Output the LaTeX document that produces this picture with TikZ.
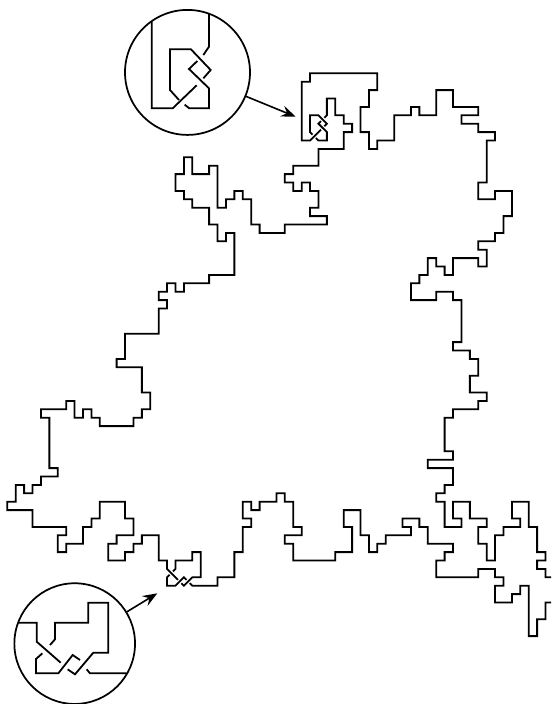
\documentclass[tikz,border=0pt]{standalone}
\usetikzlibrary{arrows.meta}
\tikzset{
  curve/.style={line width=1.35pt,black,line join=miter},
  lens/.style={circle,draw=black,line width=1.3pt,minimum size=#1,inner sep=0pt,outer sep=0pt},
  pointer/.style={line width=1.2pt,black,-{Stealth[length=11pt,width=8.5pt,inset=4pt]},shorten >=0pt},
  grid/.style={shift={(7.3,73.3)},x=6.3075pt,y=-6.3pt},
  zoomone/.style={shift={(110,0)},x=.25pt,y=-.25pt},
  zoomtwo/.style={shift={(0,580)},x=.25pt,y=-.25pt}
}
\begin{document}
\begin{tikzpicture}[x=.75pt,y=-.75pt]
\clip (0,0) rectangle (551,704);
\useasboundingbox (0,0) rectangle (551,704);
\begin{scope}[grid]
\draw[curve] (37.3,5.7)--(37,6)--(38,7)--(38,8)--(37,8)--(36.7,7.7);
\draw[curve] (36.3,7.3)--(36,7)--(36,5)--(37,5)--(38,6)--(37.7,6.3);
\draw[curve] (37.3,6.7)--(37,7)--(36,8)--(35,8)--(35,1)--(36,1)--(36,0)--(44,0)--(44,2)--(43,2)--(43,4)--(42,4)--(42,7)--(43,7)--(43,9)--(44,9)--(44,8)--(46,8)--(46,5)--(48,5)--(48,4)--(49,4)--(49,5)--(51,5)--(51,2)--(53,2)--(53,4)--(56,4)--(56,5)--(54,5)--(54,6)--(56,6)--(56,7)--(58,7)--(58,8)--(57,8)--(57,13)--(56,13)--(56,15)--(58,15)--(58,14)--(60,14)--(60,17)--(59,17)--(59,19)--(58,19)--(58,20)--(56,20)--(56,21)--(57,21)--(57,23)--(56,23)--(56,22)--(53,22)--(53,24)--(52,24)--(52,23)--(51,23)--(51,22)--(50,22)--(50,24)--(49,24)--(49,25)--(48,25)--(48,27)--(51,27)--(51,26)--(53,26)--(53,27)--(54,27)--(54,32)--(53,32)--(53,33)--(55,33)--(55,34)--(56,34)--(56,36)--(55,36)--(55,38)--(57,38)--(57,39)--(56,39)--(56,40)--(53,40)--(53,41)--(52,41)--(52,45)--(53,45)--(53,46)--(50,46)--(50,47)--(53,47)--(53,49)--(52,49)--(52,50)--(51,50)--(51,51)--(52,51)--(52,54)--(54,54)--(54,53)--(53,53)--(53,51)--(55,51)--(55,53)--(57,53)--(57,54)--(56,54)--(56,56)--(57,56)--(57,58)--(58,58)--(58,55)--(59,55)--(59,54)--(61,54)--(61,53)--(60,53)--(60,51)--(62,51)--(62,54)--(63,54)--(63,57)--(64,57)--(64,58)--(63,58)--(63,59)--(64,59)--(64,60)--(65,60)--(65,63)--(64,63)--(64,65)--(63,65)--(63,67)--(62,67)--(62,61)--(61,61)--(61,62)--(60,62)--(60,63)--(58,63)--(58,61)--(59,61)--(59,60)--(58,60)--(58,59)--(56,59)--(56,60)--(51,60)--(51,58)--(52,58)--(52,57)--(53,57)--(53,56)--(50,56)--(50,54)--(49,54)--(49,53)--(47,53)--(47,54)--(48,54)--(48,55)--(45,55)--(45,56)--(44,56)--(44,57)--(43,57)--(43,55)--(42,55)--(42,52)--(40,52)--(40,54)--(41,54)--(41,57)--(39,57)--(39,58)--(34,58)--(34,56)--(33,56)--(33,55)--(35,55)--(35,54)--(34,54)--(34,51)--(33,51)--(33,50)--(32,50)--(32,51)--(30,51)--(30,52)--(29,52)--(29,51)--(28,51)--(28,53)--(29,53)--(29,54)--(28,54)--(28,57)--(27,57)--(27,60)--(25,60)--(25,61)--(22,61)--(21.7,60.7);
\draw[curve] (21.3,60.3)--(21,60)--(20,61)--(19,61)--(19,60)--(19.3,59.7);
\draw[curve] (19.7,59.3)--(20,59)--(20,58)--(22,58)--(22,57)--(23,57)--(23,60)--(22,60)--(21,61)--(20.7,60.7);
\draw[curve] (20.3,60.3)--(19,59)--(19,58)--(18,58)--(18,55)--(16,55)--(16,56)--(15,56)--(15,57)--(14,57)--(14,58)--(12,58)--(12,56)--(13,56)--(13,55)--(15,55)--(15,53)--(14,53)--(14,51)--(11,51)--(11,53)--(10,53)--(10,54)--(9,54)--(9,56)--(7,56)--(7,57)--(6,57)--(6,55)--(7,55)--(7,54)--(3,54)--(3,52)--(0,52)--(0,51)--(1,51)--(1,49)--(2,49)--(2,50)--(3,50)--(3,49)--(4,49)--(4,48)--(6,48)--(6,47)--(5,47)--(5,41)--(4,41)--(4,40)--(7,40)--(7,39)--(8,39)--(8,41)--(9,41)--(9,40)--(10,40)--(10,41)--(11,41)--(11,42)--(15,42)--(15,41)--(16,41)--(16,40)--(17,40)--(17,38)--(16,38)--(16,35)--(13,35)--(13,34)--(14,34)--(14,31)--(18,31)--(18,28)--(19,28)--(19,27)--(18,27)--(18,26)--(19,26)--(19,25)--(20,25)--(20,26)--(21,26)--(21,25)--(24,25)--(24,24)--(27,24)--(27,19)--(26,19)--(26,20)--(25,20)--(25,18)--(24,18)--(24,16)--(22,16)--(22,15)--(21,15)--(21,14)--(20,14)--(20,12)--(21,12)--(21,10)--(22,10)--(22,12)--(24,12)--(24,11)--(25,11)--(25,16)--(26,16)--(26,15)--(27,15)--(27,14)--(28,14)--(28,15)--(29,15)--(29,18)--(30,18)--(30,19)--(33,19)--(33,18)--(38,18)--(38,17)--(36,17)--(36,16)--(37,16)--(37,14)--(36,14)--(36,13)--(35,13)--(35,14)--(34,14)--(34,13)--(33,13)--(33,12)--(34,12)--(34,11)--(37,11)--(37,9)--(40,9)--(40,7)--(41,7)--(41,6)--(40,6)--(40,5)--(39,5)--(39,3)--(38,3)--(38,5)--(37.7,5.3);
\end{scope}
\node[lens=93.75pt] (lensA) at (187.5,72.4) {};
\node[lens=90.5pt] (lensB) at (74.7,643.6) {};
\coordinate (tipA) at (295.7,116.7);
\coordinate (tipB) at (157.3,593.3);
\draw[pointer] (lensA) -- (tipA);
\draw[pointer] (lensB) -- (tipB);
\begin{scope}[zoomone]
\draw[curve] (297,42)--(297,140)--(280,165);
\draw[curve] (262,183)--(237,207)--(297,265)--(297,325)--(238,325)--(224,314);
\draw[curve] (207,300)--(180,270)--(180,148)--(243,148)--(302,210)--(280,235);
\draw[curve] (260,256)--(188,325)--(125,325)--(125,65);
\end{scope}
\begin{scope}[zoomtwo]
\draw[curve] (55,128)--(110,128)--(110,185)--(182,248);
\draw[curve] (203,268)--(225,283)--(280,218)--(325,218)--(325,68)--(265,68)--(265,128)--(165,128)--(165,178)--(150,195);
\draw[curve] (127,220)--(108,237)--(108,280)--(175,280)--(218,225)--(240,240);
\draw[curve] (260,268)--(270,280)--(380,280);
\end{scope}
\end{tikzpicture}
\end{document}
